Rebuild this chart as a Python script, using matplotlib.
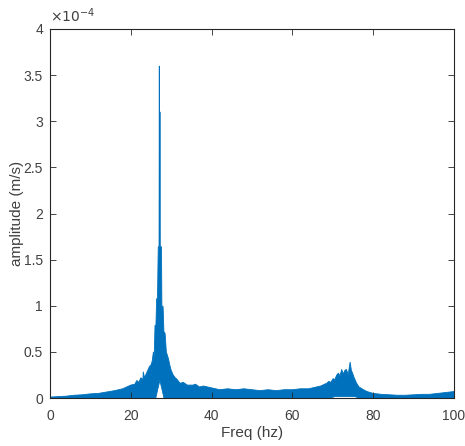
import matplotlib.pyplot as plt

plt.rcParams["font.family"] = ["Liberation Sans", "DejaVu Sans"]

# upper envelope of the spectrum (amplitude in units of 1e-4 m/s)
freq = [0, 2, 4, 6, 8, 10, 12, 14, 16, 17, 18, 19, 20, 21, 21.5, 22, 22.5, 23,
        23.1, 23.4, 23.8, 24.2, 24.6, 25.0, 25.3, 25.6, 25.8, 26.0, 26.2, 26.4,
        26.6, 26.8, 27.0, 27.06, 27.12, 27.18, 27.25, 27.3, 27.6, 27.7, 28.0,
        28.2, 28.5, 28.8, 29.3, 29.7, 30.0, 30.5, 31, 31.5, 32.2, 33, 34, 35.4,
        36, 37, 38, 40, 42, 44, 46, 48, 50, 52, 54, 56, 58, 60, 62, 64, 65, 66,
        67, 68, 68.5, 69, 69.5, 70.1, 70.5, 71, 71.4, 71.8, 72.2, 72.6, 73,
        73.4, 73.8, 74.3, 74.6, 74.9, 75.3, 75.9, 76.5, 77.6, 78.5, 80, 82, 84,
        86, 88, 90, 92, 94, 96, 98, 100]
upper = [0.01, 0.015, 0.02, 0.03, 0.035, 0.045, 0.05, 0.065, 0.08, 0.09, 0.10,
         0.12, 0.14, 0.15, 0.19, 0.17, 0.22, 0.20, 0.285, 0.22, 0.26, 0.30,
         0.34, 0.36, 0.40, 0.50, 0.45, 0.79, 0.75, 1.08, 1.05, 1.64, 1.64, 3.60,
         1.64, 3.10, 3.10, 1.64, 1.64, 1.0, 0.99, 0.72, 0.70, 0.50, 0.43, 0.35,
         0.30, 0.25, 0.22, 0.20, 0.16, 0.17, 0.14, 0.14, 0.15, 0.12, 0.13, 0.11,
         0.09, 0.10, 0.09, 0.10, 0.09, 0.08, 0.09, 0.08, 0.09, 0.09, 0.10, 0.10,
         0.11, 0.12, 0.13, 0.15, 0.16, 0.18, 0.17, 0.21, 0.20, 0.25, 0.27, 0.24,
         0.31, 0.26, 0.30, 0.31, 0.25, 0.39, 0.30, 0.27, 0.22, 0.16, 0.12, 0.09,
         0.07, 0.05, 0.04, 0.035, 0.03, 0.03, 0.035, 0.04, 0.04, 0.05, 0.06,
         0.07]

# lower envelope (the signal lifts off zero near the two resonances)
low_freq = [0, 26.2, 26.6, 27.2, 27.8, 28.2, 69.5, 70.5, 75.5, 76.5, 100]
lower = [0, 0, 0.08, 0.19, 0.08, 0, 0, 0.015, 0.015, 0, 0]

x_ticks = [0, 20, 40, 60, 80, 100]
y_ticks = [0, 0.5, 1, 1.5, 2, 2.5, 3, 3.5, 4]

fig = plt.figure(figsize=(4.65, 4.46), dpi=100)
ax = fig.add_axes([0.1075, 0.1076, 0.8688, 0.8274])

xs = freq + low_freq[::-1]
ys = upper + lower[::-1]
ax.fill(xs, ys, color="#0072BD", linewidth=0.6, edgecolor="#0072BD")

ax.set_xlim(0, 100)
ax.set_ylim(0, 4)
ax.set_xticks(x_ticks)
ax.set_yticks(y_ticks)
ax.set_yticklabels([f"{v:g}" for v in y_ticks])
ax.tick_params(direction="in", top=True, right=True, labelsize=10,
               colors="#262626", labelcolor="#404040", length=4, width=0.6)
ax.tick_params(axis="x", pad=8)
ax.tick_params(axis="y", pad=5)
for s in ax.spines.values():
    s.set_color("#262626")
    s.set_linewidth(0.8)

ax.set_xlabel("Freq (hz)", fontsize=11, color="#404040", labelpad=2)
ax.set_ylabel("amplitude (m/s)", fontsize=11, color="#404040", labelpad=0)
ax.text(0.0, 1.01, r"$\times10^{-4}$", transform=ax.transAxes, fontsize=10,
        color="#404040", ha="left", va="bottom")

fig.savefig("out.png", dpi=100)
plt.close(fig)
